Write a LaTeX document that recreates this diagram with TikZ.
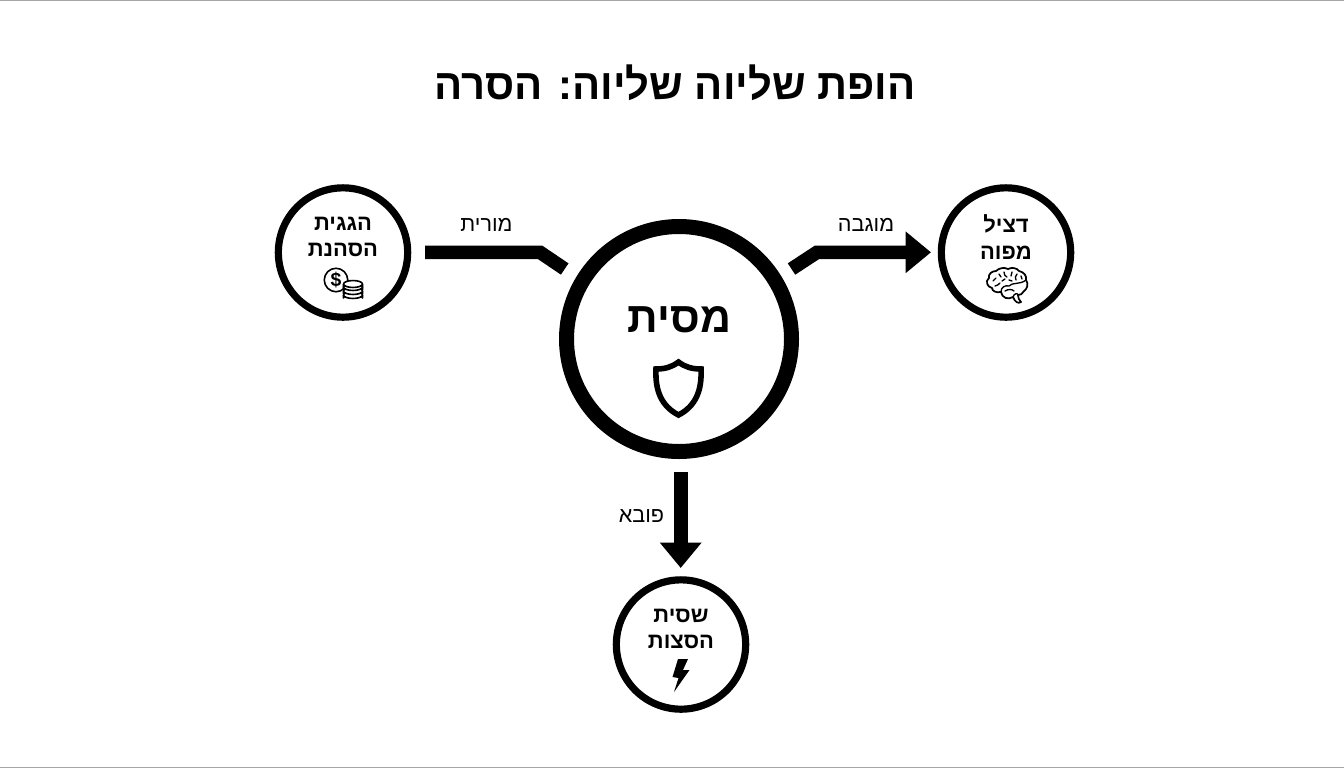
\documentclass[tikz,border=0pt]{standalone}
\usepackage{fontspec}
\setmainfont{Liberation Sans}[Script=Hebrew]
\newfontfamily\hebfont[Script=Hebrew]{Liberation Sans}
\TeXXeTstate=1
\usetikzlibrary{arrows.meta}
\definecolor{ink}{HTML}{000000}
\newcommand{\heb}[1]{\hebfont\beginR #1\endR}
\tikzset{
  px/.style={x=0.75pt,y=-0.75pt},
  bignode/.style={circle,draw=ink,fill=white,line width=11.25pt,minimum size=168.75pt,inner sep=0pt},
  smallnode/.style={circle,draw=ink,fill=white,line width=5.4pt,minimum size=97pt,inner sep=0pt},
  nodelabel/.style={text=ink,font=\bfseries\fontsize{16.5pt}{20pt}\selectfont,align=center,inner sep=0pt},
  edgelabel/.style={text=ink,font=\fontsize{16.2pt}{18pt}\selectfont,inner sep=0pt},
  conn/.style={draw=ink,line width=10.2pt},
  tipped/.style={conn,-{Triangle[length=19pt,width=30pt]}},
  iconline/.style={draw=ink,line width=1.2pt,fill=white,line join=round},
  wrinkle/.style={draw=ink,line width=1pt,line cap=round}
}
\begin{document}
\begin{tikzpicture}[px]
\useasboundingbox (0,0) rectangle (1344,768);
\fill[white] (0,0) rectangle (1344,768);
\draw[gray!70,line width=0.5pt] (0,0.3) -- (1344,0.3) (0,767.5) -- (1344,767.5);
\node[text=ink,font=\bfseries\fontsize{32pt}{38pt}\selectfont,inner sep=0pt,transform shape,xscale=0.98] (title) at (675,83) {\heb{הופת שליוה שליוה: הסרה}};

\node[bignode] (c) at (679,339) {};
\node[smallnode] (l) at (343,252.5) {};
\node[smallnode] (r) at (1006,252.5) {};
\node[smallnode] (b) at (681,644.5) {};

\node[text=ink,font=\bfseries\fontsize{32pt}{36pt}\selectfont,inner sep=0pt] (ct) at (679.5,320) {\heb{מסית}};
\node[nodelabel] (lt) at (343,237) {\heb{הגגית}\\\heb{הסהנת}};
\node[nodelabel] (rt) at (1006,237) {\heb{דציל}\\\heb{מפוה}};
\node[nodelabel] (bt) at (681,629) {\heb{שסית}\\\heb{הסצות}};

\coordinate (l1) at (425,252.3);
\coordinate (l2) at (540,252.3);
\coordinate (l3) at (564.7,269);
\draw[conn] (l1) -- (l2) -- (l3);
\coordinate (r1) at (791.5,269);
\coordinate (r2) at (817,252.3);
\coordinate (r3) at (931,252.3);
\draw[tipped] (r1) -- (r2) -- (r3);
\coordinate (b1) at (680.7,472);
\coordinate (b2) at (680.7,568);
\draw[tipped] (b1) -- (b2);

\node[edgelabel] (e1) at (486.5,225) {\heb{מורית}};
\node[edgelabel] (e2) at (866,225) {\heb{מוגבה}};
\node[edgelabel] (e3) at (641.5,516) {\heb{פובא}};

% shield
\draw[ink,line width=4.2pt,line join=miter,fill=white] (678.5,362) .. controls (672,367) and (665,369) .. (656,369) .. controls (655,390) and (661,406) .. (678.5,415) .. controls (696,406) and (702,390) .. (701,369) .. controls (692,369) and (685,367) .. (678.5,362) -- cycle;

% coins
\draw[iconline] (336,280) circle (8.8pt);
\node[text=ink,font=\bfseries\fontsize{14.5pt}{14.5pt}\selectfont,inner sep=0pt] (dollar) at (336,280.5) {\$};
\foreach \y in {295,291,287,284}{
  \draw[iconline] (343.5,\y) -- (343.5,\y+3) arc[x radius=9.5,y radius=3.6,start angle=180,end angle=360] -- (362.5,\y);
  \draw[iconline] (353,\y) ellipse (7.1pt and 2.6pt);
}

% brain
\draw[ink,line width=1.3pt,fill=white,line join=round] (1001,292) .. controls (996,293) and (992,291) .. (992,288) .. controls (987,287) and (985,281) .. (989,278) .. controls (988,274) and (992,271) .. (996,271) .. controls (999,268) and (1004,267) .. (1008,269) .. controls (1012,267) and (1017,268) .. (1019,271) .. controls (1024,272) and (1027,276) .. (1026,280) .. controls (1029,284) and (1027,289) .. (1024,291) .. controls (1023,294) and (1020,295) .. (1018,295) .. controls (1018,298) and (1019,300) .. (1021,302) .. controls (1018,304) and (1015,302) .. (1013,297) .. controls (1008,300) and (1002,298) .. (1001,292) -- cycle;
\draw[wrinkle] (1001,292) .. controls (1001,287) and (1005,285) .. (1009,286) .. controls (1012,282) and (1020,285) .. (1026,280);
\draw[wrinkle] (1013,297) .. controls (1014,293) and (1018,293) .. (1018,295);
\draw[wrinkle] (1005,291) .. controls (1008,289) and (1012,289) .. (1014,291);
\draw[wrinkle] (993,281) -- (996,278);
\draw[wrinkle] (995,286) .. controls (997,285) and (999,285) .. (1000,283);
\draw[wrinkle] (999,274) -- (1001,277);
\draw[wrinkle] (1004,272) .. controls (1004,275) and (1005,276) .. (1007,277);
\draw[wrinkle] (1002,281) -- (1005,279);
\draw[wrinkle] (1012,272) -- (1011,276);
\draw[wrinkle] (1017,274) .. controls (1015,276) and (1015,278) .. (1016,280);
\draw[wrinkle] (1021,276) -- (1022,279);
\draw[wrinkle] (1009,280) -- (1012,281);

% bolt
\fill[ink] (678,659) -- (688,659) -- (683,670) -- (689.5,670) -- (674,692) -- (678.5,678) -- (672.5,677) -- cycle;
\end{tikzpicture}
\end{document}
